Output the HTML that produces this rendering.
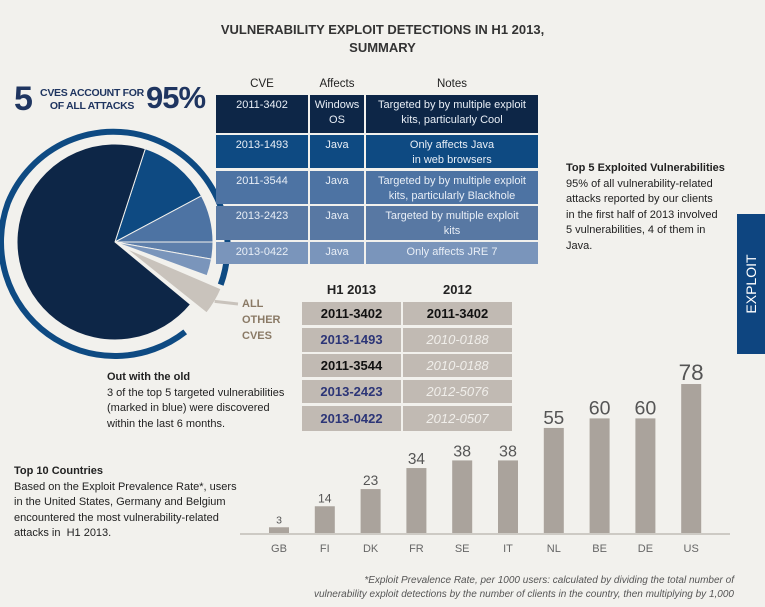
<!DOCTYPE html>
<html><head><meta charset="utf-8"><style>
body{margin:0;width:765px;height:607px;background:#f2f1ed;font-family:"Liberation Sans",sans-serif;position:relative;overflow:hidden;color:#222}
.a{position:absolute}
p{margin:0}
</style></head><body>
<div class="a" style="left:0;width:765px;top:21px;text-align:center;font-size:13px;font-weight:bold;color:#333;line-height:18px">VULNERABILITY EXPLOIT DETECTIONS IN H1 2013,<br>SUMMARY</div>

<svg class="a" style="left:0;top:0" width="765" height="607">
<g id="pie"></g>
</svg>

<div class="a" style="left:14px;top:80px;font-size:34px;font-weight:bold;color:#1f3560">5</div>
<div class="a" style="left:40px;top:87px;width:104px;font-size:10.5px;font-weight:bold;color:#1f3560;line-height:13px;text-align:center;letter-spacing:-0.3px">CVES ACCOUNT FOR<br>OF ALL ATTACKS</div>
<div class="a" style="left:146px;top:80px;font-size:31px;font-weight:bold;color:#1f3560;letter-spacing:-1px">95%</div>
<div class="a" style="left:242px;top:296px;font-size:11px;font-weight:bold;color:#8a7a66;line-height:16px">ALL<br>OTHER<br>CVES</div>

<div class="a" style="left:216px;width:92px;top:78px;text-align:center;font-size:11.5px">CVE</div>
<div class="a" style="left:310px;width:54px;top:78px;text-align:center;font-size:11.5px">Affects</div>
<div class="a" style="left:366px;width:172px;top:78px;text-align:center;font-size:11.5px">Notes</div>
<div id="t1"></div>

<div class="a" style="left:566px;top:161px;font-size:11px;line-height:15.5px;width:200px"><b>Top 5 Exploited Vulnerabilities</b><br>95% of all vulnerability-related<br>attacks reported by our clients<br>in the first half of 2013 involved<br>5 vulnerabilities, 4 of them in<br>Java.</div>

<div class="a" style="left:737px;top:214px;width:28px;height:140px;background:#0e4580"></div>
<div class="a" style="left:701px;top:276px;width:100px;text-align:center;color:#fff;font-size:14px;transform:rotate(-90deg)">EXPLOIT</div>

<div class="a" style="left:302px;width:99px;top:282px;text-align:center;font-size:13px;font-weight:bold">H1 2013</div>
<div class="a" style="left:403px;width:109px;top:282px;text-align:center;font-size:13px;font-weight:bold">2012</div>
<div id="t2"></div>

<div class="a" style="left:107px;top:370px;font-size:11px;line-height:15.5px;width:200px"><b>Out with the old</b><br>3 of the top 5 targeted vulnerabilities<br>(marked in blue) were discovered<br>within the last 6 months.</div>
<div class="a" style="left:14px;top:464px;font-size:11px;line-height:15.5px;width:240px"><b>Top 10 Countries</b><br>Based on the Exploit Prevalence Rate*, users<br>in the United States, Germany and Belgium<br>encountered the most vulnerability-related<br>attacks in&nbsp; H1 2013.</div>

<svg class="a" style="left:0;top:0;pointer-events:none" width="765" height="607"><g id="bars"></g></svg>

<div class="a" style="left:250px;width:484px;top:574px;text-align:right;font-size:10px;font-style:italic;color:#555;line-height:14px">*Exploit Prevalence Rate, per 1000 users: calculated by dividing the total number of<br>vulnerability exploit detections by the number of clients in the country, then multiplying by 1,000</div>

<script>
const countries=["GB","FI","DK","FR","SE","IT","NL","BE","DE","US"];
const rates=[3,14,23,34,38,38,55,60,60,78];
const pieLabels=["2013-1493","2011-3544","2013-2423","2013-0422","Other","2011-3402"];
const pieShares=[12.2,7.8,2.8,2.8,5.4,69];
const cves=["2011-3402","2013-1493","2011-3544","2013-2423","2013-0422"];
const affects=["Windows<br>OS","Java","Java","Java","Java"];
const notes=["Targeted by by multiple exploit<br>kits, particularly Cool","Only affects Java<br>in web browsers","Targeted by by multiple exploit<br>kits, particularly Blackhole","Targeted by multiple exploit<br>kits","Only affects JRE 7"];
const h1List=["2011-3402","2013-1493","2011-3544","2013-2423","2013-0422"];
const y2012List=["2011-3402","2010-0188","2010-0188","2012-5076","2012-0507"];
const NS="http://www.w3.org/2000/svg";
const rowColors=["#0d2647","#0e4a82","#4d73a3","#5878a3","#7a95bb"];

const pie=document.getElementById('pie');
const cx=115,cy=242,R=98;
function pt(a,r,ox,oy){const t=a*Math.PI/180;return[(ox||cx)+r*Math.cos(t),(oy||cy)+r*Math.sin(t)];}
(function(){const s=pt(52,114),m=pt(200,114),e=pt(22,114);
const ring=document.createElementNS(NS,'path');
ring.setAttribute('d',`M${s[0]},${s[1]} A114,114 0 0 1 ${m[0]},${m[1]} A114,114 0 0 1 ${e[0]},${e[1]}`);
ring.setAttribute('fill','none');ring.setAttribute('stroke','#0e4a82');ring.setAttribute('stroke-width','6');


pie.appendChild(ring);})();
const total=pieShares.reduce((a,b)=>a+b,0);
let start=-72;
const colors=["#0e4a82","#4d73a3","#5e7fab","#7a95bb","#c9c3bc","#0d2647"];
pieShares.forEach((v,i)=>{
  const sw=v/total*360;let a0=start,a1=start+sw;start=a1;
  let ox=cx,oy=cy,r=R;
  if(pieLabels[i]==="Other"){const o=pt((a0+a1)/2,12);ox=o[0];oy=o[1];r=R+6;a0+=3;a1-=1;}
  const p0=pt(a0,r,ox,oy),p1=pt(a1,r,ox,oy);
  const path=document.createElementNS(NS,'path');
  path.setAttribute('d',`M${ox},${oy} L${p0[0]},${p0[1]} A${r},${r} 0 ${sw>180?1:0} 1 ${p1[0]},${p1[1]} Z`);
  path.setAttribute('fill',colors[i]);path.setAttribute('stroke','#f2f1ed');path.setAttribute('stroke-width','1');
  
  
  pie.appendChild(path);
  if(pieLabels[i]==="Other"){const m=pt((a0+a1)/2,r,ox,oy);const ln=document.createElementNS(NS,'line');
    ln.setAttribute('x1',m[0]);ln.setAttribute('y1',m[1]);ln.setAttribute('x2',238);ln.setAttribute('y2',304);
    ln.setAttribute('stroke','#c9c3bc');ln.setAttribute('stroke-width','3');pie.appendChild(ln);}
});

const rowsY=[[95,38],[135,33],[171,33],[206,34],[242,22]];
let h='';
cves.forEach((c,i)=>{
  const [y,hh]=rowsY[i];
  const cells=[[216,92,c,'cve'],[310,54,affects[i],'affects'],[366,172,notes[i],'notes']];
  cells.forEach(([x,w,t,n])=>{h+=`<div class="a" style="left:${x}px;top:${y}px;width:${w}px;height:${hh}px;background:${rowColors[i]};color:#e8eef6;font-size:11px;line-height:15px;text-align:center;padding-top:3px;box-sizing:border-box">${t}</div>`;});
});
document.getElementById('t1').innerHTML=h;

const r2=[[302,23],[328,24],[354,23],[380,23],[406,25]];
const blue=[false,true,false,true,true];
h='';
h1List.forEach((c,i)=>{
  const [y,hh]=r2[i];
  h+=`<div class="a" style="left:302px;top:${y}px;width:99px;height:${hh}px;line-height:${hh}px;background:#c1bab3;text-align:center;font-weight:bold;font-size:13px;color:${blue[i]?'#2c3577':'#111'}">${c}</div>`;
  const same=y2012List[i]===c;
  h+=`<div class="a" style="left:403px;top:${y}px;width:109px;height:${hh}px;line-height:${hh}px;background:#c1bab3;text-align:center;font-size:13px;${same?'font-weight:bold;color:#111':'font-style:italic;color:#f0eeea'}">${y2012List[i]}</div>`;
});
document.getElementById('t2').innerHTML=h;

const g=document.getElementById('bars');
const base=533,k=1.91,x0=279,step=45.8,bw=20;
const xs=i=>x0+i*step, ys=v=>base-v*k;
const ax=document.createElementNS(NS,'line');
ax.setAttribute('x1',240);ax.setAttribute('x2',730);ax.setAttribute('y1',base+1);ax.setAttribute('y2',base+1);
ax.setAttribute('stroke','#a8a29c');ax.setAttribute('stroke-width','1');


g.appendChild(ax);
rates.forEach((v,i)=>{
  const r=document.createElementNS(NS,'rect');
  r.setAttribute('x',xs(i)-bw/2);r.setAttribute('y',ys(v));r.setAttribute('width',bw);r.setAttribute('height',base-ys(v));
  r.setAttribute('fill','#aaa39c');
  
  
  g.appendChild(r);
  const t=document.createElementNS(NS,'text');
  t.setAttribute('x',xs(i));t.setAttribute('y',ys(v)-4);t.setAttribute('text-anchor','middle');
  t.setAttribute('font-size',(10+v*0.16).toFixed(1));t.setAttribute('fill','#555');
  t.textContent=v;
  
  
  g.appendChild(t);
  const l=document.createElementNS(NS,'text');
  l.setAttribute('x',xs(i));l.setAttribute('y',base+19);l.setAttribute('text-anchor','middle');
  l.setAttribute('font-size','11');l.setAttribute('fill','#666');
  l.textContent=countries[i];
  
  
  g.appendChild(l);
});
</script>
</body></html>
